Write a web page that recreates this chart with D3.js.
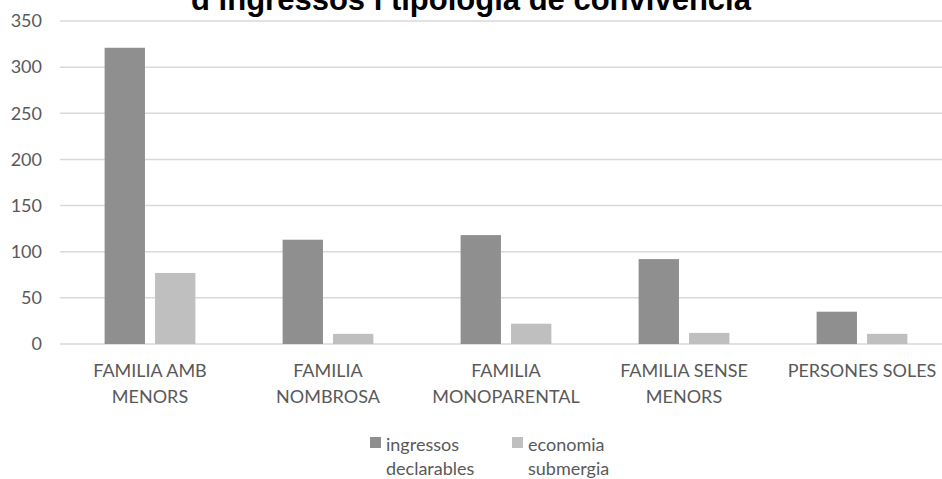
<!DOCTYPE html>
<html>
<head>
<meta charset="utf-8">
<script src="https://cdn.jsdelivr.net/npm/d3@7"></script>
<style>
  body { margin: 0; background: #fff; }
  svg text { font-family: Lato, "Open Sans", sans-serif; }
</style>
</head>
<body>
<div id="chart"></div>
<script>
// chart data
var categories = [["FAMILIA AMB", "MENORS"], ["FAMILIA", "NOMBROSA"], ["FAMILIA", "MONOPARENTAL"], ["FAMILIA SENSE", "MENORS"], ["PERSONES SOLES"]]
var seriesNames = [["ingressos", "declarables"], ["economia", "submergia"]]
var ingressos = [321, 113, 118, 92, 35]
var economia = [77, 11, 22, 12, 11]
var yTicks = [0, 50, 100, 150, 200, 250, 300, 350]
var titleText = "d’ingressos i tipologia de convivència"

var svgWidth = 942
var svgHeight = 479
var colors = ["#8f8f8f", "#bfbfbf"]

var svg = d3.select("#chart")
    .append("svg")
    .attr("width", svgWidth)
    .attr("height", svgHeight)

var rows = categories.map((c, i) => ({ cat: i, values: [ingressos[i], economia[i]] }))

// scales
var x0 = d3.scaleBand()
    .domain(d3.range(categories.length))
    .range([61, 951])
    .paddingInner(0.49)
    .paddingOuter(0.245)

var x1 = d3.scaleBand()
    .domain([0, 1])
    .range([0, x0.bandwidth()])
    .paddingInner(0.2)

var yScale = d3.scaleLinear()
    .domain([0, 350])
    .range([344, 21])

// gridlines
svg.append("g")
    .selectAll("line")
    .data(yTicks)
    .enter()
    .append("line")
    .attr("x1", 60)
    .attr("x2", svgWidth)
    .attr("y1", d => yScale(d))
    .attr("y2", d => yScale(d))
    .attr("stroke", "#d9d9d9")
    .attr("stroke-width", 1.5)

// y labels
var yAxis = d3.axisLeft(yScale).tickValues(yTicks).tickSize(0).tickPadding(0)
var yG = svg.append("g")
    .attr("transform", "translate(42,0)")
    .call(yAxis)
yG.select(".domain").remove()
yG.selectAll("text")
    .attr("fill", "#595959")
    .attr("font-size", 18)
    .style("font-family", "Lato, sans-serif")

// bars
svg.append("g")
    .selectAll("g")
    .data(rows)
    .enter()
    .append("g")
    .attr("transform", d => `translate(${x0(d.cat)},0)`)
    .selectAll("rect")
    .data(d => d.values.map((v, k) => ({ k: k, v: v })))
    .enter()
    .append("rect")
    .attr("x", d => x1(d.k))
    .attr("width", x1.bandwidth())
    .attr("y", d => yScale(d.v))
    .attr("height", d => yScale(0) - yScale(d.v))
    .attr("fill", d => colors[d.k])

// category labels
var catLabels = svg.append("g")
    .selectAll("text")
    .data(categories)
    .enter()
    .append("text")
    .attr("text-anchor", "middle")
    .attr("fill", "#595959")
    .attr("font-size", 18)
    .attr("x", (d, i) => x0(i) + x0.bandwidth() / 2)
    .attr("y", 377)

catLabels.selectAll("tspan")
    .data(d => d)
    .enter()
    .append("tspan")
    .attr("x", function () { return d3.select(this.parentNode).attr("x") })
    .attr("dy", (d, i) => i == 0 ? 0 : 26)
    .text(d => d)

// legend
var legendX = [370, 512]
var legend = svg.append("g")
    .selectAll("g")
    .data(seriesNames)
    .enter()
    .append("g")
    .attr("transform", (d, i) => `translate(${legendX[i]},437)`)

legend.append("rect")
    .attr("width", 11)
    .attr("height", 11)
    .attr("fill", (d, i) => colors[i])

legend.append("text")
    .attr("fill", "#595959")
    .attr("font-size", 18)
    .attr("y", 14)
    .selectAll("tspan")
    .data(d => d)
    .enter()
    .append("tspan")
    .attr("x", 16)
    .attr("dy", (d, i) => i == 0 ? 0 : 24)
    .text(d => d)

// title (its first line is cut off in the original)
svg.append("text")
    .attr("x", 471)
    .attr("y", 10)
    .attr("text-anchor", "middle")
    .style("font-family", "'Liberation Sans', Arial, sans-serif")
    .attr("font-weight", "bold")
    .attr("font-size", 31)
    .attr("fill", "#000")
    .text(titleText)
</script>
</body>
</html>
